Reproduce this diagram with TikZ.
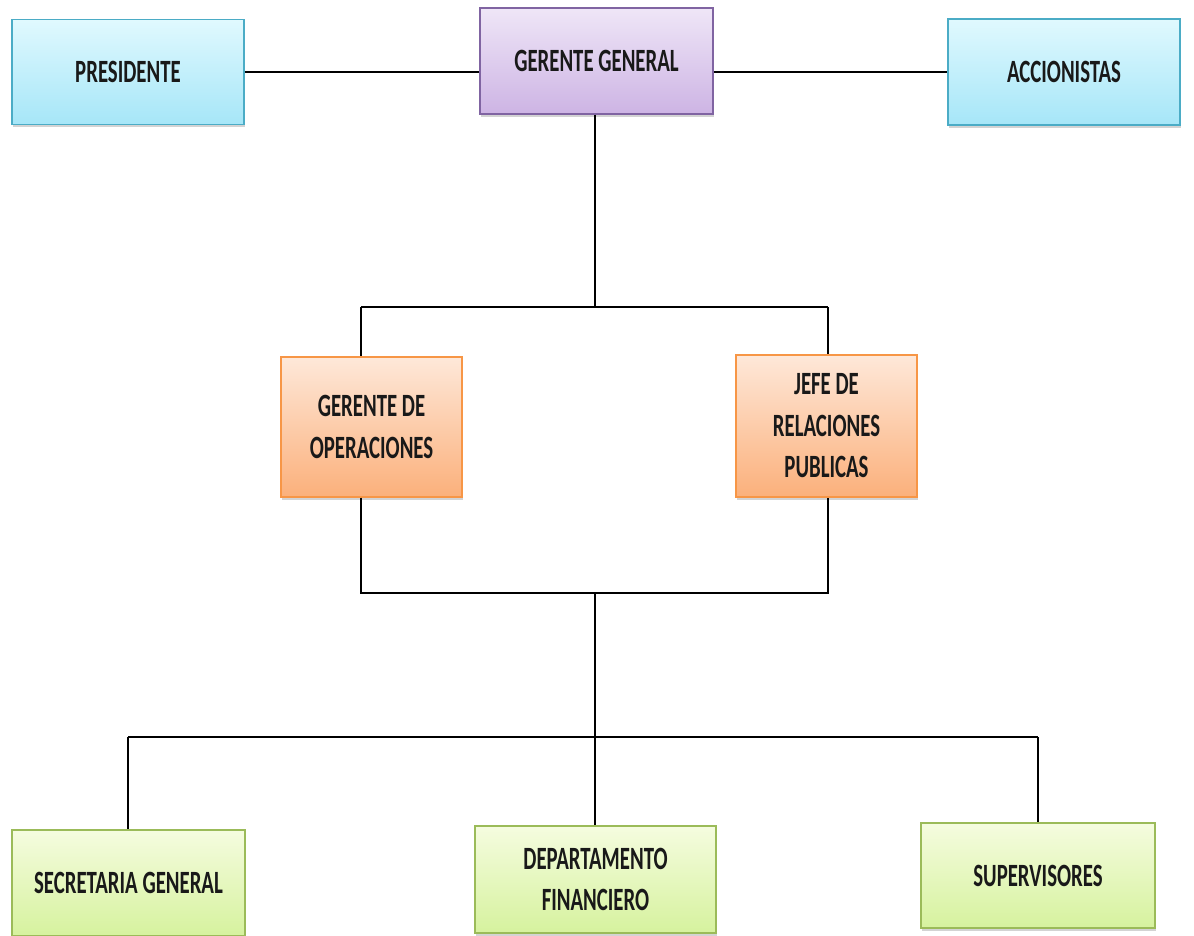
\documentclass[tikz,border=0pt]{standalone}
\usepackage{fontspec}
\newfontfamily\boxfont[FakeStretch=0.64]{Carlito}
\usetikzlibrary{shadows}
\definecolor{cyanT}{HTML}{E0F9FE}
\definecolor{cyanB}{HTML}{A6E6F8}
\definecolor{cyanD}{HTML}{4BACC6}
\definecolor{purT}{HTML}{EFE6F7}
\definecolor{purB}{HTML}{CDB4E4}
\definecolor{purD}{HTML}{8064A2}
\definecolor{orT}{HTML}{FEE8D9}
\definecolor{orB}{HTML}{FBB07B}
\definecolor{orD}{HTML}{F79646}
\definecolor{grT}{HTML}{F5FCDF}
\definecolor{grB}{HTML}{D6F29E}
\definecolor{grD}{HTML}{9BBB59}
\tikzset{
  orgbox/.style={rectangle, draw, line width=1.2pt, align=center, inner sep=2pt,
    font=\boxfont\bfseries\fontsize{32.5}{41.5}\selectfont, text=black!90,
    drop shadow={shadow xshift=1pt, shadow yshift=-3pt, opacity=0.35}},
  cyanbox/.style={orgbox, draw=cyanD, top color=cyanT, bottom color=cyanB},
  purbox/.style={orgbox, draw=purD, top color=purT, bottom color=purB},
  orbox/.style={orgbox, draw=orD, top color=orT, bottom color=orB},
  grbox/.style={orgbox, draw=grD, top color=grT, bottom color=grB},
  conn/.style={line width=1.8pt, black}
}
\begin{document}
\begin{tikzpicture}[x=1pt,y=-1pt]
\useasboundingbox (0,0) rectangle (1194,936);
% connectors coordinates
\coordinate (l1) at (361,307);
\coordinate (r1) at (828,307);
\coordinate (l2) at (361,593);
\coordinate (r2) at (828,593);
\coordinate (j2) at (595,593);
\coordinate (l3) at (128,737);
\coordinate (r3) at (1038,737);
% nodes
\node[cyanbox, minimum width=232pt, minimum height=105pt] (pres) at (128,72) {PRESIDENTE};
\node[purbox, minimum width=233pt, minimum height=106pt] (gg) at (596.5,61) {GERENTE GENERAL};
\node[cyanbox, minimum width=232pt, minimum height=106pt] (acc) at (1064,72) {ACCIONISTAS};
\node[orbox, minimum width=181pt, minimum height=140pt] (gop) at (371.5,427) {GERENTE DE\\OPERACIONES};
\node[orbox, minimum width=181pt, minimum height=142pt] (jefe) at (826.5,426) {JEFE DE\\RELACIONES\\PUBLICAS};
\node[grbox, minimum width=233pt, minimum height=106pt] (sec) at (128.5,883) {SECRETARIA GENERAL};
\node[grbox, minimum width=241pt, minimum height=107pt] (dep) at (595.5,879.5) {DEPARTAMENTO\\FINANCIERO};
\node[grbox, minimum width=234pt, minimum height=105pt] (sup) at (1038,875.5) {SUPERVISORES};
% connectors
\draw[conn] (pres.east) -- (gg.west |- pres.east);
\draw[conn] (gg.east |- acc.west) -- (acc.west);
\draw[conn] (gg.south -| j2) -- (j2 |- l1);
\draw[conn] (l1) -- (r1);
\draw[conn] (l1) -- (l1 |- gop.north);
\draw[conn] (r1) -- (r1 |- jefe.north);
\draw[conn] (l2 |- gop.south) -- (l2) -- (r2) -- (r2 |- jefe.south);
\draw[conn] (j2) -- (j2 |- dep.north);
\draw[conn] (l3) -- (r3);
\draw[conn] (l3) -- (l3 |- sec.north);
\draw[conn] (r3) -- (r3 |- sup.north);
\end{tikzpicture}
\end{document}
